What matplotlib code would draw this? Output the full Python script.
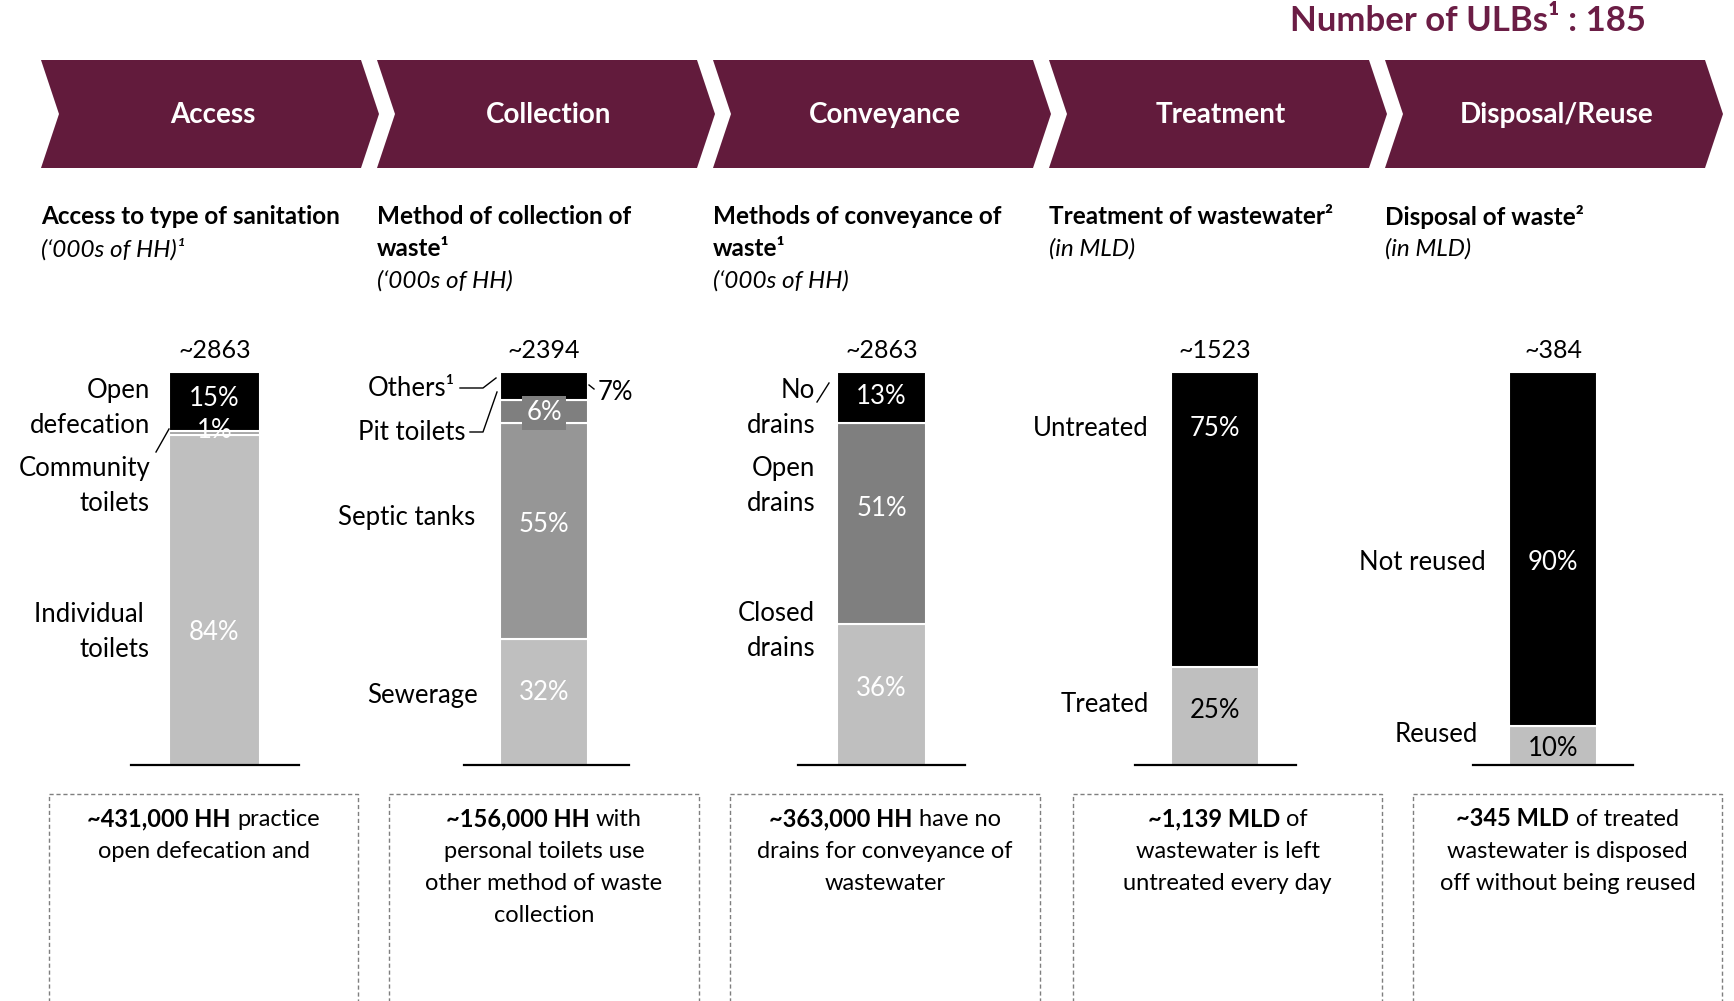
import matplotlib
matplotlib.use("Agg")
import matplotlib.pyplot as plt
from matplotlib.patches import Polygon, Rectangle

FONT = "Lato"
MAROON = "#621b3c"

# ---- data -------------------------------------------------------------
stages = ["Access", "Collection", "Conveyance", "Treatment", "Disposal/Reuse"]
totals = ["~2863", "~2394", "~2863", "~1523", "~384"]

# segments listed top -> bottom, values in %
access_pct = [15, 1, 84]
collection_pct = [7, 6, 55, 32]
conveyance_pct = [13, 51, 36]
treatment_pct = [75, 25]
disposal_pct = [90, 10]
shares = [access_pct, collection_pct, conveyance_pct, treatment_pct, disposal_pct]

seg_colors = [
    ["#000000", "#a6a6a6", "#bfbfbf"],
    ["#000000", "#7f7f7f", "#969696", "#bfbfbf"],
    ["#000000", "#7f7f7f", "#bfbfbf"],
    ["#000000", "#bfbfbf"],
    ["#000000", "#bfbfbf"],
]
pct_colors = [
    ["white", "white", "white"],
    ["black", "white", "white", "white"],
    ["white", "white", "white"],
    ["white", "black"],
    ["white", "black"],
]

subtitles = [
    ["Access to type of sanitation"],
    ["Method of collection of", "waste\u00b9"],
    ["Methods of conveyance of", "waste\u00b9"],
    ["Treatment of wastewater\u00b2"],
    ["Disposal of waste\u00b2"],
]
units = ["(\u2018000s of HH)\u00b9", "(\u2018000s of HH)", "(\u2018000s of HH)", "(in MLD)", "(in MLD)"]

notes = [
    [[("~431,000 HH", "bold"), (" practice", "normal")], "open defecation and"],
    [[("~156,000 HH", "bold"), (" with", "normal")], "personal toilets use",
     "other method of waste", "collection"],
    [[("~363,000 HH", "bold"), (" have no", "normal")], "drains for conveyance of",
     "wastewater"],
    [[("~1,139 MLD", "bold"), (" of", "normal")], "wastewater is left",
     "untreated every day"],
    [[("~345 MLD", "bold"), (" of treated", "normal")], "wastewater is disposed",
     "off without being reused"],
]

# ---- layout (pixels) --------------------------------------------------
W, H = 1734, 1001
fig = plt.figure(figsize=(W / 100, H / 100), dpi=100)
ax = fig.add_axes([0, 0, 1, 1])
ax.set_xlim(0, W)
ax.set_ylim(H, 0)
ax.axis("off")
ax.set_zorder(3)

LBL = 18.5   # label / percentage size
NOTE = 17    # note box size
SUB = 17.5   # subtitle size

bar_x = [(169, 260), (500, 588), (837, 926), (1171, 1259), (1509, 1597)]
base_x = [(131, 299), (464, 629), (798, 965), (1135, 1296), (1473, 1633)]
bar_top, bar_bot = 372, 765
chev_left = [41 + 336 * i for i in range(5)]
box_x = [(49, 358), (389, 699), (730, 1040), (1073, 1382), (1413, 1722)]

# title
ax.text(1646, 21, "Number of ULBs\u00b9 : 185", ha="right", va="center",
        fontsize=25, fontweight="bold", color="#6b1d45", family=FONT)

# chevrons
top, bot, mid = 60, 168, 114
for L, name in zip(chev_left, stages):
    pts = [(L, top), (L + 320, top), (L + 338, mid), (L + 320, bot), (L, bot), (L + 18, mid)]
    ax.add_patch(Polygon(pts, closed=True, fc=MAROON, ec="none"))
    ax.text(L + 172, mid + 1, name, ha="center", va="center", color="white",
            fontsize=20, fontweight="bold", family=FONT)

# subtitles
for L, lines, unit in zip(chev_left, subtitles, units):
    y = 217
    for ln in lines:
        ax.text(L, y, ln, ha="left", va="center", fontsize=SUB, fontweight="bold", family=FONT)
        y += 32
    ax.text(L, y, unit, ha="left", va="center", fontsize=SUB, style="italic", family=FONT)

# bars, one small axes per stage with a 0-100 % scale
for i, vals in enumerate(shares):
    b0, b1 = base_x[i]
    bx0, bx1 = bar_x[i]
    sub = fig.add_axes([b0 / W, 1 - bar_bot / H, (b1 - b0) / W, (bar_bot - bar_top) / H])
    sub.set_xlim(b0, b1)
    sub.set_ylim(0, 100)
    for s in ["top", "left", "right"]:
        sub.spines[s].set_visible(False)
    sub.spines["bottom"].set_linewidth(1.6)
    sub.set_xticks([])
    sub.set_yticks([])
    sub.patch.set_alpha(0)
    bottom = 0
    for v, c in zip(vals[::-1], seg_colors[i][::-1]):
        sub.bar((bx0 + bx1) / 2, v, width=bx1 - bx0, bottom=bottom, color=c,
                edgecolor="white", linewidth=1.5)
        bottom += v
    ax.text((bx0 + bx1) / 2, 350, totals[i], ha="center", va="center", fontsize=18, family=FONT)

# percentage labels (pixel positions)
pct_y = [[398, 430, 633], [392, 413, 525, 692], [397, 508, 688], [428, 710], [563, 748]]
for i, vals in enumerate(shares):
    cx = sum(bar_x[i]) / 2
    for j, v in enumerate(vals):
        if i == 1 and j == 0:
            ax.text(598, 392, f"{v}%", ha="left", va="center", fontsize=LBL, family=FONT)
            ax.plot([589, 594], [385, 389], color="black", lw=1)
            continue
        kw = {}
        if i == 1 and j == 1:
            kw["bbox"] = dict(fc="#7f7f7f", ec="none", pad=3)
        ax.text(cx, pct_y[i][j], f"{v}%", ha="center", va="center", fontsize=LBL,
                color=pct_colors[i][j], family=FONT, **kw)

# category labels
cat_labels = [
    [("Open\ndefecation", 150, 408), ("Community\ntoilets", 150, 486), ("Individual \ntoilets", 150, 632)],
    [("Others\u00b9", 455, 389), ("Pit toilets", 465, 432), ("Septic tanks", 475, 517), ("Sewerage", 478, 695)],
    [("No\ndrains", 815, 408), ("Open\ndrains", 815, 486), ("Closed\ndrains", 815, 631)],
    [("Untreated", 1149, 428), ("Treated", 1149, 705)],
    [("Not reused", 1486, 563), ("Reused", 1478, 735)],
]
for group in cat_labels:
    for txt, x, y in group:
        ax.text(x, y, txt, ha="right", va="center", fontsize=LBL, family=FONT, linespacing=1.47)

# leader lines
leaders = [
    [(156, 452), (169, 429)],
    [(460, 388), (483, 388), (496, 378)],
    [(470, 432), (483, 432), (497, 392)],
    [(817, 402), (829, 383)],
]
for pts in leaders:
    xs, ys = zip(*pts)
    ax.plot(xs, ys, color="black", lw=1)

# dashed note boxes
renderer = fig.canvas.get_renderer()


def width_of(t):
    return t.get_window_extent(renderer).width


probe_a = ax.text(0, -50, "xx", fontsize=NOTE, family=FONT)
probe_b = ax.text(0, -50, "x x", fontsize=NOTE, family=FONT)
space_w = width_of(probe_b) - width_of(probe_a)
probe_a.remove()
probe_b.remove()

for (x0, x1), lines in zip(box_x, notes):
    ax.add_patch(Rectangle((x0, 794), x1 - x0, 220, fill=False, ec="#7f7f7f",
                           lw=1, ls=(0, (3, 2))))
    cx = (x0 + x1) / 2
    y = 819
    for ln in lines:
        if isinstance(ln, list):
            parts = []
            for s, w in ln:
                lead = s.startswith(" ")
                t = ax.text(0, y, s.strip(), ha="left", va="center", fontsize=NOTE,
                            fontweight=w, family=FONT)
                parts.append((t, lead))
            total = sum(width_of(t) + (space_w if lead else 0) for t, lead in parts)
            x = cx - total / 2
            for t, lead in parts:
                if lead:
                    x += space_w
                t.set_x(x)
                x += width_of(t)
        else:
            ax.text(cx, y, ln, ha="center", va="center", fontsize=NOTE, family=FONT)
        y += 32

fig.savefig("out.png", dpi=100, facecolor="white")
